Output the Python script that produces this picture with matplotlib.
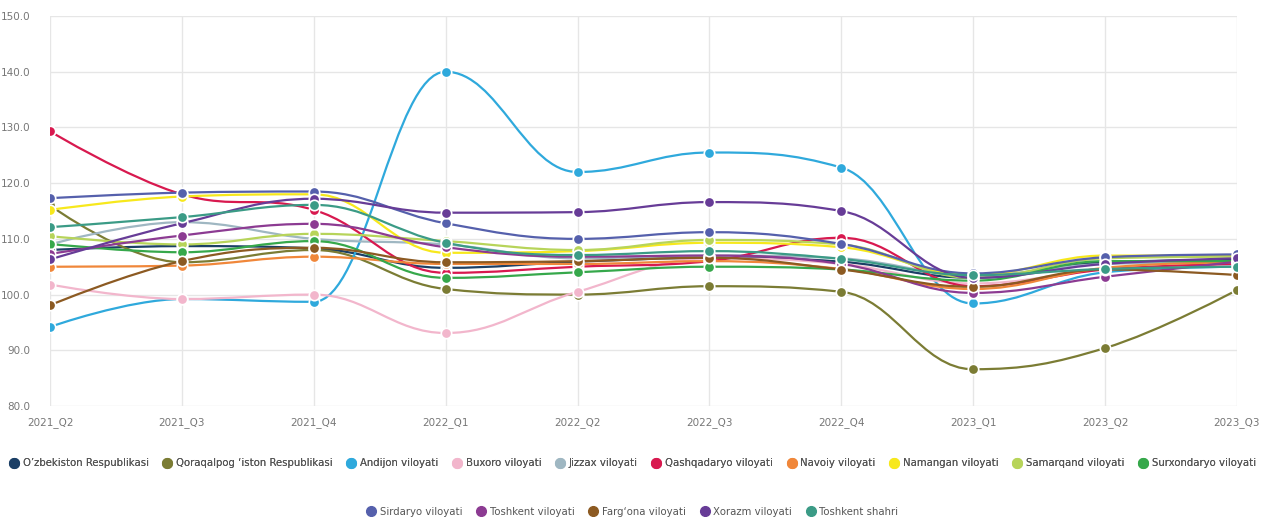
import matplotlib
matplotlib.use("Agg")
import matplotlib.pyplot as plt
from matplotlib.path import Path
from matplotlib.patches import PathPatch
from matplotlib.lines import Line2D

# Data
quarters = ["2021_Q2", "2021_Q3", "2021_Q4", "2022_Q1", "2022_Q2",
            "2022_Q3", "2022_Q4", "2023_Q1", "2023_Q2", "2023_Q3"]

uzbekiston = [108.0, 108.7, 108.3, 104.8, 105.9, 106.6, 105.9, 103.0, 105.8, 106.2]
qoraqalpog = [116.0, 105.8, 108.0, 101.0, 100.0, 101.5, 100.5, 86.6, 90.4, 100.8]
andijon = [94.2, 99.2, 98.7, 140.0, 122.0, 125.5, 122.8, 98.4, 104.0, 105.0]
buxoro = [101.8, 99.2, 100.0, 93.1, 100.5, 106.5, 105.5, 102.0, 104.5, 105.5]
jizzax = [109.0, 113.0, 110.0, 109.0, 106.5, 107.0, 106.5, 103.5, 105.5, 105.8]
qashqadaryo = [129.3, 118.0, 115.2, 103.9, 105.0, 106.0, 110.2, 101.5, 104.5, 105.5]
navoiy = [105.0, 105.2, 106.8, 105.5, 105.5, 106.0, 104.6, 101.0, 104.8, 105.8]
namangan = [115.2, 117.6, 118.0, 107.5, 107.8, 109.3, 108.5, 103.5, 107.0, 107.0]
samarqand = [110.5, 109.0, 110.9, 109.6, 108.0, 109.8, 109.0, 103.0, 106.5, 106.8]
surxondaryo = [109.1, 107.6, 109.6, 103.0, 104.0, 105.0, 104.5, 102.5, 106.0, 106.0]
sirdaryo = [117.3, 118.3, 118.5, 112.8, 110.0, 111.2, 109.1, 103.8, 106.7, 107.2]
toshkent_vil = [107.3, 110.6, 112.7, 108.5, 106.8, 107.0, 105.5, 100.3, 103.2, 105.9]
fargona = [98.1, 106.0, 108.4, 105.8, 106.0, 106.6, 104.5, 101.4, 104.5, 103.5]
xorazm = [106.3, 112.8, 117.2, 114.7, 114.8, 116.6, 115.0, 103.0, 105.5, 106.5]
toshkent_sh = [112.1, 113.9, 116.1, 109.3, 107.1, 107.8, 106.4, 103.5, 104.6, 105.0]

names = ["O\u2019zbekiston Respublikasi", "Qoraqalpog \u2018iston Respublikasi",
         "Andijon viloyati", "Buxoro viloyati", "Jizzax viloyati",
         "Qashqadaryo viloyati", "Navoiy viloyati", "Namangan viloyati",
         "Samarqand viloyati", "Surxondaryo viloyati", "Sirdaryo viloyati",
         "Toshkent viloyati", "Farg\u2018ona viloyati", "Xorazm viloyati",
         "Toshkent shahri"]
series = [uzbekiston, qoraqalpog, andijon, buxoro, jizzax, qashqadaryo, navoiy,
          namangan, samarqand, surxondaryo, sirdaryo, toshkent_vil, fargona,
          xorazm, toshkent_sh]
colors = ["#1b3f66", "#7b7c34", "#2fa9dc", "#f2b6cc", "#9fb7c2", "#d8194f",
          "#f0873a", "#f7e81c", "#b7d45a", "#36a84b", "#5560ac", "#8c3b92",
          "#8c5a22", "#673c97", "#3b9b86"]


def spline_path(xs, ys, smoothing=1.5):
    # highcharts-style spline control points
    n = len(xs)
    denom = smoothing + 1
    verts = [(xs[0], ys[0])]
    codes = [Path.MOVETO]
    prev_right = (xs[0], ys[0])
    for i in range(1, n):
        x, y = xs[i], ys[i]
        if i < n - 1:
            lx, ly = xs[i - 1], ys[i - 1]
            nx, ny = xs[i + 1], ys[i + 1]
            lcx = (smoothing * x + lx) / denom
            lcy = (smoothing * y + ly) / denom
            rcx = (smoothing * x + nx) / denom
            rcy = (smoothing * y + ny) / denom
            corr = (rcy - lcy) * (rcx - x) / (rcx - lcx) + y - rcy
            lcy += corr
            rcy += corr
            if lcy > ly and lcy > y:
                lcy = max(ly, y)
                rcy = 2 * y - lcy
            elif lcy < ly and lcy < y:
                lcy = min(ly, y)
                rcy = 2 * y - lcy
            if rcy > ny and rcy > y:
                rcy = max(ny, y)
                lcy = 2 * y - rcy
            elif rcy < ny and rcy < y:
                rcy = min(ny, y)
                lcy = 2 * y - rcy
            left = (lcx, lcy)
            right = (rcx, rcy)
        else:
            left = (x, y)
            right = (x, y)
        verts += [prev_right, left, (x, y)]
        codes += [Path.CURVE4] * 3
        prev_right = right
    return Path(verts, codes)


fig = plt.figure(figsize=(12.66, 5.17), dpi=100)
ax = fig.add_axes([0.0395, 0.2147, 0.9375, 0.7543])

xs = list(range(len(quarters)))
for vals, col in zip(series, colors):
    ax.add_patch(PathPatch(spline_path(xs, vals), facecolor="none",
                           edgecolor=col, lw=1.6, zorder=2))
for vals, col in zip(series, colors):
    ax.plot(xs, vals, linestyle="none", marker="o", ms=7.5, mfc=col,
            mec="white", mew=1.2, zorder=3)

ax.set_xlim(0, len(quarters) - 1)
ax.set_ylim(80, 150)
ax.set_xticks(xs)
ax.set_xticklabels(quarters)
ax.set_yticks(range(80, 151, 10))
ax.set_yticklabels([f"{v:.1f}" for v in range(80, 151, 10)])
ax.grid(True, color="#e6e6e6", lw=1)
ax.set_axisbelow(True)
for s in ax.spines.values():
    s.set_visible(False)
ax.tick_params(length=0, labelsize=7.5, labelcolor="#777777")
ax.tick_params(axis="x", pad=8)
ax.tick_params(axis="y", pad=14)

handles = [Line2D([], [], linestyle="none", marker="o", ms=7, mfc=c, mec=c)
           for c in colors]
leg_kw = dict(loc="center", frameon=False, fontsize=7.3, handletextpad=0.5,
              columnspacing=1.5, handlelength=0.7, labelcolor="#555555")
leg1 = fig.legend(handles[:10], names[:10], ncol=10,
                  bbox_to_anchor=(0.5, 0.104), **leg_kw)
fig.add_artist(leg1)
fig.legend(handles[10:], names[10:], ncol=5,
           bbox_to_anchor=(0.5, 0.01), **leg_kw)

fig.savefig("out.png", dpi=100, facecolor="white")
